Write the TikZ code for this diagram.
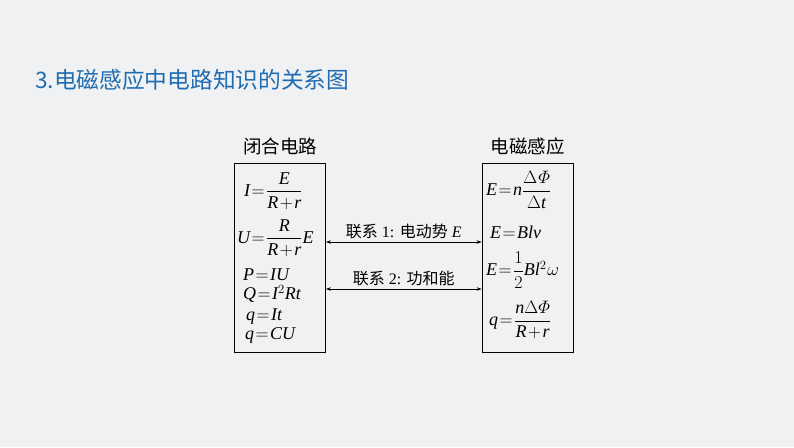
\documentclass[tikz,border=0pt]{standalone}
\usepackage{fix-cm}
\usepackage{amsmath}
\usepackage{fontspec}
\setmainfont{Liberation Serif}
\newfontfamily\cjk{Noto Sans CJK SC}
% Times-like italic letters in the formulas, Greek kept from cm
\DeclareSymbolFont{greekletters}{OML}{cmm}{m}{it}
\DeclareSymbolFont{letters}{TU}{\rmdefault}{m}{it}
\DeclareMathSymbol{\omega}{\mathord}{greekletters}{"21}
\DeclareMathSymbol{\varPhi}{\mathord}{greekletters}{"08}
\usetikzlibrary{positioning,arrows.meta}
\definecolor{bgray}{RGB}{240,241,242}
\definecolor{titleblue}{RGB}{31,108,178}
\newcommand{\tightmath}{\thickmuskip=1.5mu\medmuskip=1.5mu\thinmuskip=1mu}
\tikzset{
  box/.style={draw,thick,minimum width=91pt,minimum height=189pt,inner sep=0pt},
  head/.style={font=\cjk\fontsize{18.5}{20}\selectfont},
  formula/.style={anchor=west,inner sep=0pt,font=\fontsize{18}{20}\selectfont\tightmath},
  link/.style={{Stealth[length=5pt,width=3.5pt]}-{Stealth[length=5pt,width=3.5pt]},semithick},
  linklabel/.style={midway,above=3pt,inner sep=0pt,font=\fontsize{16}{18}\selectfont}
}
\begin{document}
\begin{tikzpicture}[x=1pt,y=-1pt]
\fill[bgray] (0,0) rectangle (794,447);
\useasboundingbox (0,0) rectangle (794,447);
\node[anchor=west,inner sep=0pt,titleblue,font=\cjk\fontsize{22.7}{24}\selectfont] (title) at (35,80) {3.电磁感应中电路知识的关系图};

% the two boxes
\node[box] (circuit) at (280,257.5) {};
\node[box] (induction) at (527.5,257.5) {};
\node[head,above=4pt of circuit] (circuithead) {闭合电路};
\node[head,above=4pt of induction] (inductionhead) {电磁感应};

% closed circuit
\node[formula] (ohm) at (244,191) {$I=\dfrac{E}{R+r}$};
\node[formula] (volt) at (237,238) {$U=\dfrac{R}{R+r}E$};
\node[formula] (power) at (243,275) {$P=IU$};
\node[formula] (heat) at (243,294) {$Q=I^2Rt$};
\node[formula] (charge) at (246,317) {$q=It$};
\node[formula] (cap) at (245,335) {$q=CU$};

% induction
\node[formula] (faraday) at (486,190) {$E=n\dfrac{\Delta\,\varPhi}{\Delta t}$};
\node[formula] (motional) at (490,232) {$E=Blv$};
\node[formula] (rotate) at (486,270) {$E=\dfrac{1}{2}Bl^2\,\omega$};
\node[formula] (flux) at (489,320) {$q=\dfrac{n\Delta\varPhi}{R+r}$};

% links
\draw[link] ([yshift=15.5pt]circuit.east) -- node[linklabel] {{\cjk 联系} 1: {\cjk 电动势} $E$} ([yshift=15.5pt]induction.west);
\draw[link] ([yshift=-31.5pt]circuit.east) -- node[linklabel] {{\cjk 联系} 2: {\cjk 功和能}} ([yshift=-31.5pt]induction.west);
\end{tikzpicture}
\end{document}
